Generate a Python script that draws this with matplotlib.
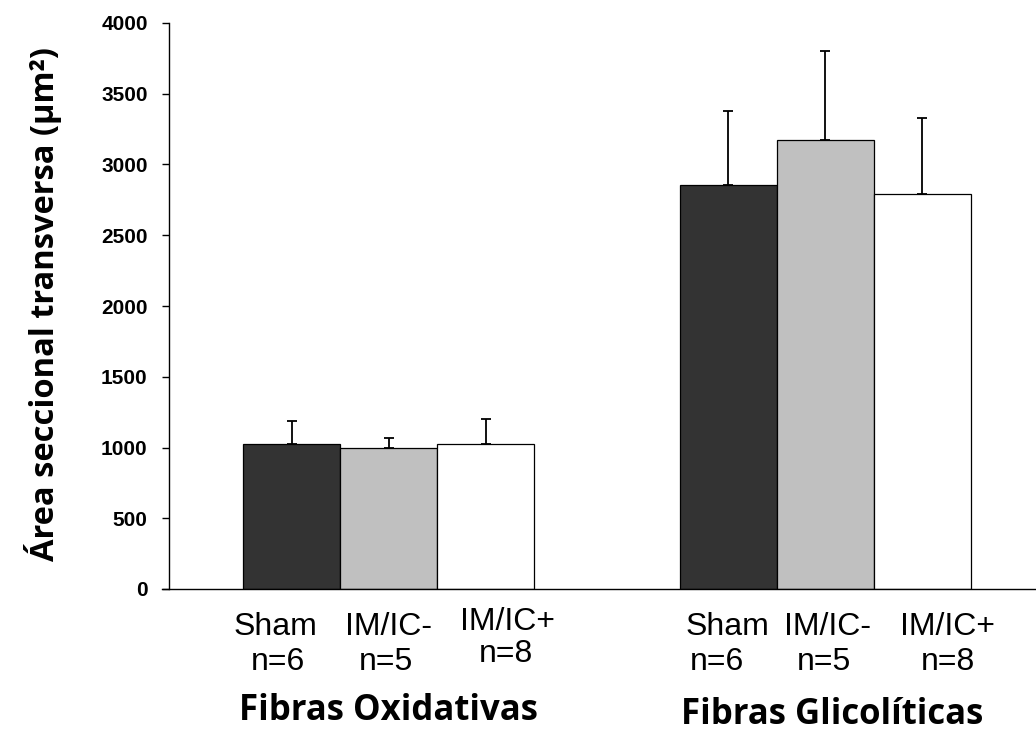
import numpy as np
import matplotlib
matplotlib.use("Agg")
import matplotlib.pyplot as plt
import matplotlib.transforms as mtransforms

# data
groups = ["Fibras Oxidativas", "Fibras Glicolíticas"]
conditions = ["Sham", "IM/IC-", "IM/IC+"]
n_labels = ["n=6", "n=5", "n=8"]
means_ox = [1025, 999, 1025]
upper_ox = [1187, 1067, 1201]     # top of error bar
means_gl = [2855, 3175, 2789]
upper_gl = [3380, 3800, 3326]
yticks = [0, 500, 1000, 1500, 2000, 2500, 3000, 3500, 4000]

colors = ["#333333", "#c0c0c0", "#ffffff"]

fig = plt.figure(figsize=(10.36, 7.34), dpi=100)
ax = fig.add_axes([169/1036, 1 - 589/734, 1 - 169/1036, (589 - 23)/734])

group_start = [0.0, 4.5]
allmeans = [means_ox, means_gl]
alluppers = [upper_ox, upper_gl]

for g in range(2):
    xs = group_start[g] + np.arange(3)
    err = np.array(alluppers[g]) - np.array(allmeans[g])
    ax.bar(xs, allmeans[g], width=1.0, color=colors, edgecolor="black",
           linewidth=0.9, zorder=2)
    ax.errorbar(xs, allmeans[g], yerr=[np.zeros(3), err], fmt="none",
                ecolor="black", elinewidth=1.3, capsize=3.3, capthick=1.3,
                zorder=1)

ax.set_xlim(-1.263, 7.675)
ax.set_ylim(0, 4000)
ax.set_yticks(yticks)
ax.set_yticklabels([str(t) for t in yticks], fontsize=15, fontweight="bold",
                   family="Liberation Sans")
ax.tick_params(axis="y", length=5.3, width=1.0, pad=10)
ax.set_xticks([])
for s in ["top", "right"]:
    ax.spines[s].set_visible(False)
ax.spines["left"].set_linewidth(1.0)
ax.spines["bottom"].set_linewidth(1.0)
ax.spines["bottom"].set_bounds(-1.34, 7.675)
ax.spines["bottom"].set_clip_on(False)

# category labels under bars (hand-placed like the original)
trans = mtransforms.blended_transform_factory(ax.transData, ax.transAxes)
name_off = [[-0.17, 0.0, 0.23], [-0.01, 0.03, 0.26]]
n_off = [[-0.14, -0.03, 0.21], [-0.11, -0.01, 0.27]]
name_y = [[-0.0813, -0.0813, -0.0724], [-0.0813, -0.0813, -0.0813]]
n_y = [[-0.143, -0.143, -0.129], [-0.143, -0.143, -0.143]]
for g in range(2):
    for i in range(3):
        x = group_start[g] + i
        ax.text(x + name_off[g][i], name_y[g][i], conditions[i], transform=trans,
                ha="center", va="baseline", fontsize=23, family="Liberation Sans")
        ax.text(x + n_off[g][i], n_y[g][i], n_labels[i], transform=trans,
                ha="center", va="baseline", fontsize=23, family="Liberation Sans")

group_off = [0.0, 0.07]
group_y = [-0.232, -0.239]
for g in range(2):
    ax.text(group_start[g] + 1 + group_off[g], group_y[g], groups[g], transform=trans,
            ha="center", va="baseline", fontsize=25, fontweight="bold",
            family="Open Sans")

fig.text(43/1036, 1 - 304/734, "Área seccional transversa (µm²)", rotation=90,
         ha="center", va="center", fontsize=23.5, fontweight="bold",
         family="Open Sans")

fig.savefig("out.png", dpi=100)
